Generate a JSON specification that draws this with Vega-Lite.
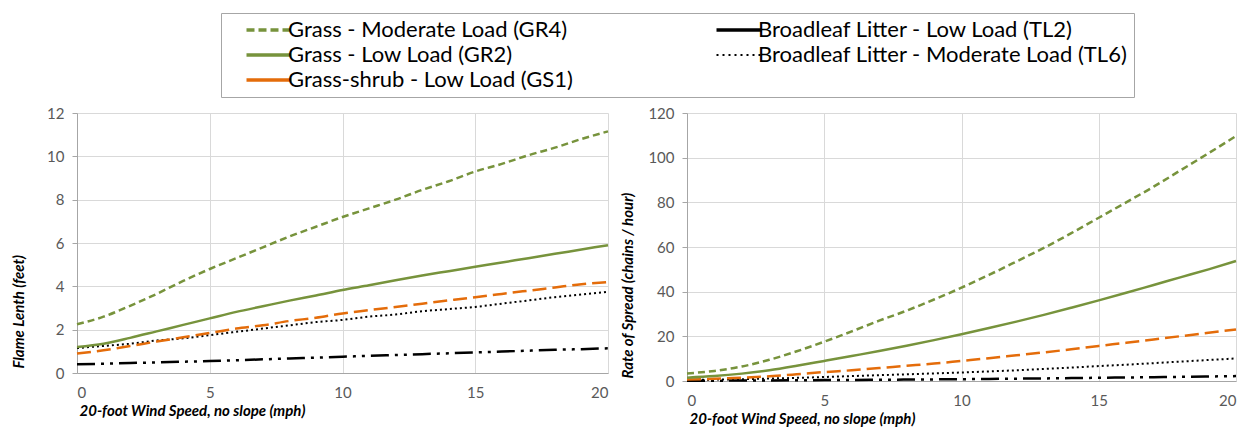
{
  "$schema": "https://vega.github.io/schema/vega-lite/v6.json",
  "padding": {"left": 11, "top": 12, "right": 5, "bottom": 5},
  "config": {
    "font": "Lato",
    "view": {"stroke": null},
    "line": {"strokeCap": "butt", "interpolate": "monotone"},
    "axis": {
      "gridColor": "#d9d9d9",
      "domainColor": "#a6a6a6",
      "tickColor": "#a6a6a6",
      "labelColor": "#595959",
      "labelFontSize": 15,
      "labelFont": "Lato",
      "titleFont": "Lato",
      "titleFontSize": 15,
      "titleFontStyle": "italic",
      "titleFontWeight": "bold",
      "titleColor": "#000000"
    },
    "axisX": {"ticks": false, "labelPadding": 12, "titleX": 2, "titleAlign": "left", "titlePadding": 3},
    "axisY": {"tickSize": 5, "labelPadding": 8, "titleAnchor": "start"}
  },
  "data": {"values": [
    {"c":"GR4","x":0,"fl":2.25,"ros":3.4},{"c":"GR4","x":1,"fl":2.6,"ros":4.5},{"c":"GR4","x":2,"fl":3.1,"ros":6.5},{"c":"GR4","x":3,"fl":3.65,"ros":9.5},{"c":"GR4","x":4,"fl":4.25,"ros":13.3},{"c":"GR4","x":5,"fl":4.8,"ros":17.6},{"c":"GR4","x":6,"fl":5.3,"ros":22.2},{"c":"GR4","x":7,"fl":5.8,"ros":27},{"c":"GR4","x":8,"fl":6.3,"ros":31.5},{"c":"GR4","x":9,"fl":6.75,"ros":36.5},{"c":"GR4","x":10,"fl":7.2,"ros":41.8},{"c":"GR4","x":11,"fl":7.6,"ros":47.5},{"c":"GR4","x":12,"fl":8.0,"ros":53.5},{"c":"GR4","x":13,"fl":8.45,"ros":59.6},{"c":"GR4","x":14,"fl":8.85,"ros":66.2},{"c":"GR4","x":15,"fl":9.3,"ros":73.1},{"c":"GR4","x":16,"fl":9.65,"ros":80},{"c":"GR4","x":17,"fl":10.05,"ros":87},{"c":"GR4","x":18,"fl":10.4,"ros":94.5},{"c":"GR4","x":19,"fl":10.8,"ros":102},{"c":"GR4","x":20,"fl":11.15,"ros":109.7},
    {"c":"GR2","x":0,"fl":1.2,"ros":1.5},{"c":"GR2","x":1,"fl":1.35,"ros":2.2},{"c":"GR2","x":2,"fl":1.62,"ros":3.3},{"c":"GR2","x":3,"fl":1.92,"ros":4.8},{"c":"GR2","x":4,"fl":2.22,"ros":6.8},{"c":"GR2","x":5,"fl":2.52,"ros":9},{"c":"GR2","x":6,"fl":2.82,"ros":11.2},{"c":"GR2","x":7,"fl":3.08,"ros":13.4},{"c":"GR2","x":8,"fl":3.34,"ros":15.8},{"c":"GR2","x":9,"fl":3.58,"ros":18.3},{"c":"GR2","x":10,"fl":3.83,"ros":20.9},{"c":"GR2","x":11,"fl":4.05,"ros":23.7},{"c":"GR2","x":12,"fl":4.28,"ros":26.6},{"c":"GR2","x":13,"fl":4.5,"ros":29.6},{"c":"GR2","x":14,"fl":4.7,"ros":32.8},{"c":"GR2","x":15,"fl":4.9,"ros":36.1},{"c":"GR2","x":16,"fl":5.1,"ros":39.5},{"c":"GR2","x":17,"fl":5.3,"ros":43},{"c":"GR2","x":18,"fl":5.5,"ros":46.5},{"c":"GR2","x":19,"fl":5.7,"ros":50},{"c":"GR2","x":20,"fl":5.9,"ros":53.7},
    {"c":"GS1","x":0,"fl":0.9,"ros":0.7},{"c":"GS1","x":1,"fl":1.05,"ros":1.0},{"c":"GS1","x":2,"fl":1.25,"ros":1.5},{"c":"GS1","x":3,"fl":1.45,"ros":2.1},{"c":"GS1","x":4,"fl":1.65,"ros":3.0},{"c":"GS1","x":5,"fl":1.85,"ros":4.0},{"c":"GS1","x":6,"fl":2.05,"ros":4.8},{"c":"GS1","x":7,"fl":2.2,"ros":5.8},{"c":"GS1","x":8,"fl":2.4,"ros":6.8},{"c":"GS1","x":9,"fl":2.55,"ros":7.8},{"c":"GS1","x":10,"fl":2.75,"ros":9.0},{"c":"GS1","x":11,"fl":2.9,"ros":10.2},{"c":"GS1","x":12,"fl":3.05,"ros":11.5},{"c":"GS1","x":13,"fl":3.2,"ros":12.8},{"c":"GS1","x":14,"fl":3.35,"ros":14.2},{"c":"GS1","x":15,"fl":3.5,"ros":15.7},{"c":"GS1","x":16,"fl":3.65,"ros":17.1},{"c":"GS1","x":17,"fl":3.8,"ros":18.6},{"c":"GS1","x":18,"fl":3.95,"ros":20.1},{"c":"GS1","x":19,"fl":4.1,"ros":21.6},{"c":"GS1","x":20,"fl":4.2,"ros":23.1},
    {"c":"TL6","x":0,"fl":1.15,"ros":0.4},{"c":"TL6","x":1,"fl":1.25,"ros":0.6},{"c":"TL6","x":2,"fl":1.35,"ros":0.8},{"c":"TL6","x":3,"fl":1.5,"ros":1.1},{"c":"TL6","x":4,"fl":1.6,"ros":1.4},{"c":"TL6","x":5,"fl":1.75,"ros":1.8},{"c":"TL6","x":6,"fl":1.9,"ros":2.2},{"c":"TL6","x":7,"fl":2.05,"ros":2.6},{"c":"TL6","x":8,"fl":2.2,"ros":3.0},{"c":"TL6","x":9,"fl":2.35,"ros":3.4},{"c":"TL6","x":10,"fl":2.45,"ros":3.8},{"c":"TL6","x":11,"fl":2.6,"ros":4.3},{"c":"TL6","x":12,"fl":2.7,"ros":4.8},{"c":"TL6","x":13,"fl":2.85,"ros":5.4},{"c":"TL6","x":14,"fl":2.95,"ros":6.0},{"c":"TL6","x":15,"fl":3.05,"ros":6.7},{"c":"TL6","x":16,"fl":3.2,"ros":7.3},{"c":"TL6","x":17,"fl":3.35,"ros":8.0},{"c":"TL6","x":18,"fl":3.5,"ros":8.7},{"c":"TL6","x":19,"fl":3.62,"ros":9.4},{"c":"TL6","x":20,"fl":3.75,"ros":10.1},
    {"c":"TL2","x":0,"fl":0.4,"ros":0.1},{"c":"TL2","x":1,"fl":0.43,"ros":0.15},{"c":"TL2","x":2,"fl":0.46,"ros":0.2},{"c":"TL2","x":3,"fl":0.49,"ros":0.25},{"c":"TL2","x":4,"fl":0.52,"ros":0.32},{"c":"TL2","x":5,"fl":0.55,"ros":0.4},{"c":"TL2","x":6,"fl":0.59,"ros":0.47},{"c":"TL2","x":7,"fl":0.63,"ros":0.55},{"c":"TL2","x":8,"fl":0.67,"ros":0.63},{"c":"TL2","x":9,"fl":0.71,"ros":0.72},{"c":"TL2","x":10,"fl":0.75,"ros":0.8},{"c":"TL2","x":11,"fl":0.79,"ros":0.92},{"c":"TL2","x":12,"fl":0.83,"ros":1.04},{"c":"TL2","x":13,"fl":0.87,"ros":1.16},{"c":"TL2","x":14,"fl":0.91,"ros":1.3},{"c":"TL2","x":15,"fl":0.95,"ros":1.45},{"c":"TL2","x":16,"fl":0.99,"ros":1.58},{"c":"TL2","x":17,"fl":1.03,"ros":1.72},{"c":"TL2","x":18,"fl":1.07,"ros":1.86},{"c":"TL2","x":19,"fl":1.1,"ros":2.02},{"c":"TL2","x":20,"fl":1.14,"ros":2.2}
  ]},
  "spacing": 7,
  "hconcat": [
    {
      "width": 531,
      "height": 260,
      "encoding": {
        "x": {"field": "x", "type": "quantitative", "scale": {"domain": [0, 20]}, "axis": {"values": [0, 5, 10, 15, 20], "title": "20-foot Wind Speed, no slope (mph)"}},
        "y": {"field": "fl", "type": "quantitative", "scale": {"domain": [0, 12]}, "axis": {"values": [0, 2, 4, 6, 8, 10, 12], "title": "Flame Lenth (feet)", "titlePadding": 20, "titleY": 255}},
        "color": {
          "field": "c", "type": "nominal",
          "scale": {"domain": ["GR4", "GR2", "GS1", "TL2", "TL6"], "range": ["#77933C", "#77933C", "#E46C0A", "#000000", "#000000"]},
          "legend": {
            "orient": "none", "legendX": 144, "legendY": -100, "direction": "vertical",
            "columns": 2, "title": null, "symbolType": "M-3,0H3", "symbolSize": 225,
            "symbolStrokeWidth": 3, "symbolOffset": 31, "rowPadding": 3, "columnPadding": 123,
            "labelFontSize": 22, "labelFont": "Lato", "labelColor": "#000000", "labelLimit": 600, "labelOffset": 8,
            "strokeColor": "#a6a6a6", "padding": 6,
            "labelExpr": "{'GR4':'Grass - Moderate Load (GR4)','GR2':'Grass - Low Load (GR2)','GS1':'Grass-shrub - Low Load (GS1)','TL2':'Broadleaf Litter - Low Load (TL2)','TL6':'Broadleaf Litter - Moderate Load (TL6)'}[datum.value]",
            "encode": {"symbols": {"update": {
              "strokeDash": {"signal": "datum.value == 'GR4' ? [8,4] : datum.value == 'TL6' ? [2,4] : [1,0]"},
              "strokeWidth": {"signal": "datum.value == 'TL6' ? 2 : 3.5"}
            }}}
          }
        }
      },
      "layer": [
        {"transform": [{"filter": "datum.c == 'TL6'"}], "mark": {"type": "line", "strokeDash": [2, 3], "strokeWidth": 2}},
        {"transform": [{"filter": "datum.c == 'TL2'"}], "mark": {"type": "line", "strokeDash": [18, 6, 3, 6, 3, 6], "strokeWidth": 2.5}},
        {"transform": [{"filter": "datum.c == 'GS1'"}], "mark": {"type": "line", "strokeDash": [14, 6], "strokeWidth": 2.5}},
        {"transform": [{"filter": "datum.c == 'GR2'"}], "mark": {"type": "line", "strokeWidth": 2.5}},
        {"transform": [{"filter": "datum.c == 'GR4'"}], "mark": {"type": "line", "strokeDash": [7, 4], "strokeWidth": 2.5}}
      ]
    },
    {
      "width": 549,
      "height": 268,
      "encoding": {
        "x": {"field": "x", "type": "quantitative", "scale": {"domain": [0, 20]}, "axis": {"values": [0, 5, 10, 15, 20], "title": "20-foot Wind Speed, no slope (mph)"}},
        "y": {"field": "ros", "type": "quantitative", "scale": {"domain": [0, 120]}, "axis": {"values": [0, 20, 40, 60, 80, 100, 120], "title": "Rate of Spread (chains / hour)", "titlePadding": 12, "titleY": 265}},
        "color": {"field": "c", "type": "nominal", "scale": {"domain": ["GR4", "GR2", "GS1", "TL2", "TL6"], "range": ["#77933C", "#77933C", "#E46C0A", "#000000", "#000000"]}}
      },
      "layer": [
        {"transform": [{"filter": "datum.c == 'TL6'"}], "mark": {"type": "line", "strokeDash": [2, 3], "strokeWidth": 2}},
        {"transform": [{"filter": "datum.c == 'TL2'"}], "mark": {"type": "line", "strokeDash": [18, 6, 3, 6, 3, 6], "strokeWidth": 2.5}},
        {"transform": [{"filter": "datum.c == 'GS1'"}], "mark": {"type": "line", "strokeDash": [14, 6], "strokeWidth": 2.5}},
        {"transform": [{"filter": "datum.c == 'GR2'"}], "mark": {"type": "line", "strokeWidth": 2.5}},
        {"transform": [{"filter": "datum.c == 'GR4'"}], "mark": {"type": "line", "strokeDash": [7, 4], "strokeWidth": 2.5}}
      ]
    }
  ]
}
